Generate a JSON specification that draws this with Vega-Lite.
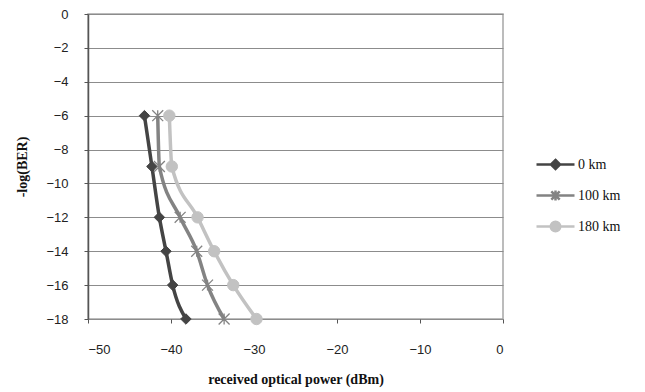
{
  "$schema": "https://vega.github.io/schema/vega-lite/v6.json",
  "width": 415,
  "height": 305,
  "autosize": {"type": "none"},
  "padding": {"left": 88, "top": 14, "right": 142, "bottom": 73},
  "background": "white",
  "config": {
    "view": {"stroke": "#a6a6a6", "strokeWidth": 1.5},
    "axis": {
      "labelFont": "Liberation Sans",
      "labelFontSize": 13,
      "labelColor": "#222222",
      "titleFont": "Liberation Serif",
      "titleFontSize": 14,
      "titleFontWeight": "bold",
      "titleColor": "#111111"
    }
  },
  "data": {
    "values": [
      {"series": "0 km", "power": -43.2, "ber": -6},
      {"series": "0 km", "power": -42.3, "ber": -9},
      {"series": "0 km", "power": -41.4, "ber": -12},
      {"series": "0 km", "power": -40.6, "ber": -14},
      {"series": "0 km", "power": -39.8, "ber": -16},
      {"series": "0 km", "power": -38.2, "ber": -18},
      {"series": "100 km", "power": -41.6, "ber": -6},
      {"series": "100 km", "power": -41.4, "ber": -9},
      {"series": "100 km", "power": -38.9, "ber": -12},
      {"series": "100 km", "power": -36.9, "ber": -14},
      {"series": "100 km", "power": -35.6, "ber": -16},
      {"series": "100 km", "power": -33.6, "ber": -18},
      {"series": "180 km", "power": -40.2, "ber": -6},
      {"series": "180 km", "power": -39.9, "ber": -9},
      {"series": "180 km", "power": -36.8, "ber": -12},
      {"series": "180 km", "power": -34.8, "ber": -14},
      {"series": "180 km", "power": -32.5, "ber": -16},
      {"series": "180 km", "power": -29.7, "ber": -18}
    ]
  },
  "encoding": {
    "x": {
      "field": "power",
      "type": "quantitative",
      "scale": {"domain": [-50, 0], "nice": false, "zero": false},
      "axis": {
        "title": "received optical power (dBm)",
        "values": [-50, -40, -30, -20, -10, 0],
        "grid": false,
        "domain": false,
        "tickColor": "#555555",
        "tickSize": 4,
        "labelPadding": 20,
        "titlePadding": 16
      }
    },
    "y": {
      "field": "ber",
      "type": "quantitative",
      "scale": {"domain": [-18, 0], "nice": false, "zero": false},
      "axis": {
        "title": "-log(BER)",
        "values": [0, -2, -4, -6, -8, -10, -12, -14, -16, -18],
        "grid": true,
        "gridColor": "#8c8c8c",
        "gridWidth": 1,
        "domainColor": "#555555",
        "domainWidth": 1.5,
        "tickColor": "#555555",
        "tickSize": 4,
        "labelPadding": 16,
        "titlePadding": 16
      }
    }
  },
  "layer": [
    {
      "mark": {"type": "line", "interpolate": "monotone", "strokeWidth": 3.5},
      "encoding": {
        "color": {
          "field": "series",
          "type": "nominal",
          "scale": {"domain": ["0 km", "100 km", "180 km"], "range": ["#444444", "#838383", "#c2c2c2"]},
          "legend": {
            "orient": "none",
            "legendX": 447,
            "legendY": 130,
            "title": null,
            "labelFont": "Liberation Serif",
            "labelFontSize": 14,
            "labelColor": "#111111",
            "symbolSize": 1444,
            "symbolStrokeWidth": 2.5,
            "labelOffset": 2,
            "rowPadding": -0.5,
            "encode": {
              "symbols": {
                "update": {
                  "shape": {"signal": "datum.value === '0 km' ? 'M-1,0L1,0M0,-0.24L0.24,0L0,0.24L-0.24,0Z' : datum.value === '100 km' ? 'M-1,0L1,0M-0.22,-0.22L0.22,0.22M-0.22,0.22L0.22,-0.22M0,-0.26L0,0.26' : 'M-1,0L1,0M0.25,0A0.25,0.25,0,1,1,-0.25,0A0.25,0.25,0,1,1,0.25,0Z'"},
                  "fill": {"signal": "datum.value === '0 km' ? '#444444' : datum.value === '100 km' ? 'transparent' : '#c2c2c2'"},
                  "stroke": {"signal": "datum.value === '0 km' ? '#444444' : datum.value === '100 km' ? '#838383' : '#c2c2c2'"}
                }
              }
            }
          }
        }
      }
    },
    {
      "transform": [{"filter": "datum.series === '0 km'"}],
      "mark": {"type": "point", "shape": "M0,-1L1,0L0,1L-1,0Z", "filled": true, "size": 110, "opacity": 1, "fill": "#444444", "stroke": "#444444", "strokeWidth": 1}
    },
    {
      "transform": [{"filter": "datum.series === '100 km'"}],
      "mark": {"type": "point", "shape": "M-1,-1L1,1M-1,1L1,-1M0,-1L0,1", "filled": false, "size": 120, "opacity": 1, "stroke": "#838383", "strokeWidth": 1.3}
    },
    {
      "transform": [{"filter": "datum.series === '180 km'"}],
      "mark": {"type": "point", "shape": "circle", "filled": true, "size": 130, "opacity": 1, "fill": "#c2c2c2", "stroke": "#c2c2c2", "strokeWidth": 1}
    }
  ]
}
